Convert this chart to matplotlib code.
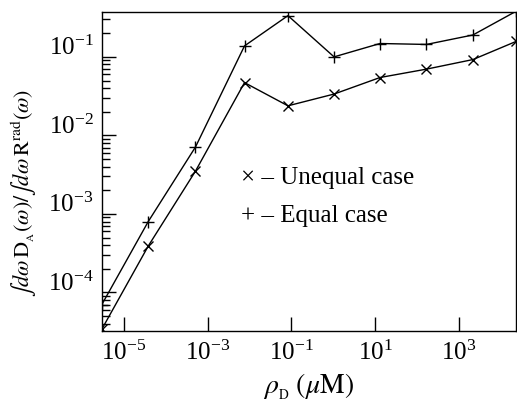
import numpy as np
import matplotlib
matplotlib.use("Agg")
from matplotlib import pyplot as plt
from matplotlib import ticker
from matplotlib.transforms import ScaledTranslation

# concentration rho_D (uM)
rho = [2.95e-6, 3.8e-5, 5.1e-4, 7.6e-3, 8.3e-2, 1.05, 13.2, 170.0, 2190.0, 2.34e4]

# ratio of integrals for the two cases
unequal = [3.4e-5, 3.9e-4, 3.5e-3, 4.7e-2, 2.38e-2, 3.36e-2, 5.46e-2, 6.98e-2, 9.24e-2, 0.157]
equal = [7.0e-5, 8.0e-4, 7.1e-3, 0.138, 0.335, 0.100, 0.148, 0.144, 0.19, 0.38]

xticks = [1e-5, 1e-3, 1e-1, 1e1, 1e3]
yticks = [1e-4, 1e-3, 1e-2, 1e-1]

plt.rcParams['font.family'] = ['Liberation Serif', 'DejaVu Serif']
plt.rcParams['mathtext.fontset'] = 'stix'

fig = plt.figure(figsize=(5.17, 4.04), dpi=100)
ax = fig.add_axes([0.197, 0.181, 0.801, 0.789])

ax.plot(rho, unequal, 'k-', lw=1.0, marker='x', ms=7, mew=1.0)
ax.plot(rho, equal, 'k-', lw=1.0, marker='+', ms=8, mew=1.0)

ax.set_xscale('log')
ax.set_yscale('log')
ax.set_xlim(10**-5.53, 10**4.37)
ax.set_ylim(10**-4.49, 10**-0.43)

ax.xaxis.set_major_locator(ticker.FixedLocator(xticks))
ax.xaxis.set_minor_locator(ticker.NullLocator())
ax.yaxis.set_major_locator(ticker.FixedLocator(yticks))
ax.yaxis.set_minor_locator(ticker.LogLocator(base=10, subs=np.arange(2, 10)))
ax.xaxis.set_major_formatter(ticker.LogFormatterSciNotation())
ax.yaxis.set_major_formatter(ticker.LogFormatterSciNotation())

ax.tick_params(which='both', direction='in', top=False, right=False, labelsize=18, width=1.0)
ax.tick_params(which='major', length=10)
ax.tick_params(which='minor', length=6)
ax.tick_params(axis='x', pad=7)
ax.tick_params(axis='y', pad=6)
for lab in ax.get_yticklabels():
    lab.set_transform(lab.get_transform() + ScaledTranslation(0, 8 / 72, fig.dpi_scale_trans))

for sp in ax.spines.values():
    sp.set_linewidth(1.0)

ax.text(0.335, 0.48, u'\u00d7 \u2013 Unequal case', transform=ax.transAxes,
        fontsize=18, va='center', ha='left')
ax.text(0.335, 0.36, u'+ \u2013 Equal case', transform=ax.transAxes,
        fontsize=18, va='center', ha='left')

ax.set_xlabel(r'$\rho_{_\mathrm{D}}\;(\mu\mathrm{M})$', fontsize=20, labelpad=5)
ax.set_ylabel(r'$\int d\omega\,\mathrm{D}_{_\mathrm{A}}(\omega)/\int d\omega\,\mathrm{R}^{\mathrm{rad}}(\omega)$',
              fontsize=16)
ax.yaxis.set_label_coords(-0.152, 0.433)

fig.savefig('out.png', dpi=100)
